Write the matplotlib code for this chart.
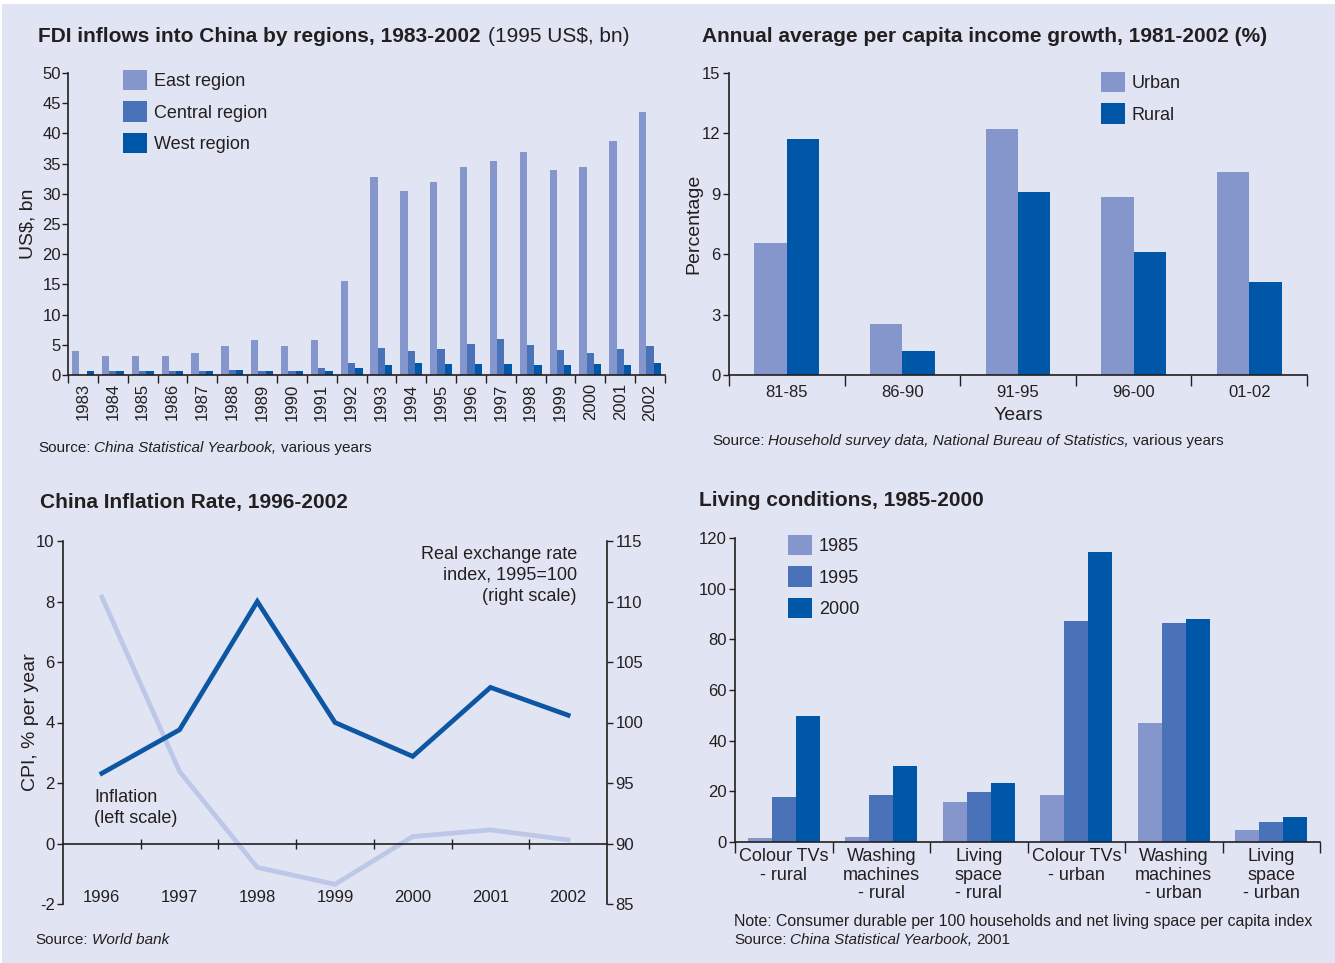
import numpy as np
import matplotlib
matplotlib.use("Agg")
import matplotlib.pyplot as plt
from matplotlib.patches import Rectangle

plt.rcParams['font.family'] = ['Liberation Sans', 'DejaVu Sans']
plt.rcParams['text.color'] = '#231f20'
plt.rcParams['axes.labelcolor'] = '#231f20'
plt.rcParams['xtick.color'] = '#231f20'
plt.rcParams['ytick.color'] = '#231f20'
plt.rcParams['axes.unicode_minus'] = False

# ---- data ----
fdi_years = [str(y) for y in range(1983, 2003)]
fdi_east = [3.9, 3.2, 3.2, 3.2, 3.7, 4.8, 5.8, 4.8, 5.8, 15.5,
            32.8, 30.4, 31.9, 34.4, 35.5, 37.0, 33.9, 34.4, 38.8, 43.6]
fdi_central = [0.0, 0.6, 0.6, 0.6, 0.6, 0.9, 0.6, 0.6, 1.1, 2.0,
               4.5, 3.9, 4.3, 5.2, 6.0, 5.0, 4.2, 3.7, 4.3, 4.8]
fdi_west = [0.6, 0.6, 0.6, 0.6, 0.6, 0.9, 0.6, 0.6, 0.6, 1.1,
            1.6, 2.0, 1.9, 1.9, 1.9, 1.7, 1.7, 1.9, 1.7, 2.0]

inc_periods = ['81-85', '86-90', '91-95', '96-00', '01-02']
inc_urban = [6.55, 2.55, 12.2, 8.85, 10.1]
inc_rural = [11.7, 1.2, 9.1, 6.1, 4.6]

inf_years = ['1996', '1997', '1998', '1999', '2000', '2001', '2002']
inflation = [8.15, 2.38, -0.79, -1.35, 0.23, 0.45, 0.12]
exch_rate = [95.8, 99.4, 110.0, 100.0, 97.2, 102.9, 100.6]

liv_cats = ['Colour TVs\n- rural', 'Washing\nmachines\n- rural', 'Living\nspace\n- rural',
            'Colour TVs\n- urban', 'Washing\nmachines\n- urban', 'Living\nspace\n- urban']
liv_1985 = [1.6, 2.1, 15.9, 18.4, 46.9, 4.9]
liv_1995 = [17.6, 18.4, 19.9, 87.2, 86.4, 7.9]
liv_2000 = [49.9, 30.1, 23.4, 114.5, 88.0, 9.9]

# ---- style ----
W, H = 1335, 963
bg = '#e1e4f2'
c_light = '#8496cc'
c_mid = '#4a72b8'
c_dark = '#0057a8'
c_infl = '#bdc7e7'
ink = '#231f20'

fig = plt.figure(figsize=(W / 100, H / 100), dpi=100, facecolor='white')
fig.patches.append(Rectangle((2 / W, 0), 1, 1 - 4 / H, transform=fig.transFigure,
                             facecolor=bg, edgecolor='none', zorder=-10))


def px_axes(left, top, right, bottom):
    return fig.add_axes([left / W, 1 - bottom / H, (right - left) / W, (bottom - top) / H])


def ftext(x, y, s, **kw):
    return fig.text(x / W, 1 - y / H, s, **kw)


def rich(x, y, parts, size=11):
    # chain text pieces with different styles on one line
    renderer = fig.canvas.get_renderer()
    for s, style in parts:
        t = ftext(x, y, s, fontsize=size, style=style, va='center')
        x += t.get_window_extent(renderer).width + 4


def style_axes(ax):
    ax.set_facecolor('none')
    for side in ['top', 'right']:
        ax.spines[side].set_visible(False)
    for side in ['left', 'bottom']:
        ax.spines[side].set_color(ink)
        ax.spines[side].set_linewidth(1.2)
    ax.tick_params(width=1.0, length=4, labelsize=12, pad=2)


def slot_ticks(ax, n, length=5, direction='out'):
    ax.set_xlim(-0.5, n - 0.5)
    ax.set_xticks(np.arange(n))
    ax.set_xticks(np.arange(n + 1) - 0.5, minor=True)
    ax.tick_params(axis='x', which='major', length=0)
    ax.tick_params(axis='x', which='minor', length=length, width=1.0, direction=direction)


def legend(ax, handles, labels, x, y, size=13):
    ax.legend(handles, labels, loc='upper left', bbox_to_anchor=(x / W, 1 - y / H),
              bbox_transform=fig.transFigure, frameon=False, fontsize=size,
              handlelength=1.35, handleheight=1.35, labelspacing=0.62,
              handletextpad=0.35, borderpad=0, borderaxespad=0)


# ---- top left: FDI ----
ax1 = px_axes(68, 73, 665, 375)
style_axes(ax1)
x = np.arange(len(fdi_years))
w = 0.245
b1 = ax1.bar(x - w, fdi_east, w, color=c_light)
b2 = ax1.bar(x, fdi_central, w, color=c_mid)
b3 = ax1.bar(x + w, fdi_west, w, color=c_dark)
slot_ticks(ax1, len(fdi_years), length=6)
ax1.set_xticklabels(fdi_years, rotation=90, fontsize=12)
ax1.tick_params(axis='x', which='major', pad=6)
ax1.set_ylim(0, 50)
ax1.set_yticks(np.arange(0, 51, 5))
ax1.tick_params(axis='y', pad=1)
ax1.set_ylabel('US$, bn', fontsize=14, labelpad=4)
legend(ax1, [b1, b2, b3], ['East region', 'Central region', 'West region'], 123, 70)
ftext(38, 36, 'FDI inflows into China by regions, 1983-2002', fontsize=15,
      fontweight='bold', va='center')
ftext(488, 36, '(1995 US$, bn)', fontsize=15, va='center')
rich(38, 448, [('Source:', 'normal'), ('China Statistical Yearbook,', 'italic'),
               ('various years', 'normal')])

# ---- top right: income growth ----
ax2 = px_axes(729, 73, 1307, 375)
style_axes(ax2)
x = np.arange(len(inc_periods))
w = 0.28
u = ax2.bar(x - w / 2, inc_urban, w, color=c_light)
r = ax2.bar(x + w / 2, inc_rural, w, color=c_dark)
slot_ticks(ax2, len(inc_periods), length=8)
ax2.set_xticklabels(inc_periods, fontsize=12)
ax2.tick_params(axis='x', which='major', pad=7)
ax2.set_ylim(0, 15)
ax2.set_yticks(np.arange(0, 16, 3))
ax2.set_ylabel('Percentage', fontsize=14, labelpad=0)
ax2.set_xlabel('Years', fontsize=14, labelpad=5)
legend(ax2, [u, r], ['Urban', 'Rural'], 1101, 72)
ftext(702, 37, 'Annual average per capita income growth, 1981-2002 (%)', fontsize=15,
      fontweight='bold', va='center')
rich(712, 441, [('Source:', 'normal'),
                ('Household survey data, National Bureau of Statistics,', 'italic'),
                ('various years', 'normal')])

# ---- bottom left: inflation ----
ax3 = px_axes(63, 541, 607, 904)
style_axes(ax3)
x = np.arange(len(inf_years))
ax3.plot(x, inflation, color=c_infl, lw=3.4, solid_joinstyle='miter')
ax3.set_ylim(-2, 10)
ax3.set_yticks(np.arange(-2, 11, 2))
ax3.spines['bottom'].set_position(('data', 0))
slot_ticks(ax3, len(inf_years), length=7, direction='inout')
ax3.set_xticks(np.arange(1, len(inf_years)) - 0.5, minor=True)
ax3.set_xticklabels([])
for i, yr in enumerate(inf_years):
    ax3.text(i, -1.8, yr, ha='center', va='center', fontsize=12)
ax3.set_ylabel('CPI, % per year', fontsize=14, labelpad=-2)

ax3r = ax3.twinx()
ax3r.set_facecolor('none')
for side in ['top', 'left', 'bottom']:
    ax3r.spines[side].set_visible(False)
ax3r.spines['right'].set_color(ink)
ax3r.spines['right'].set_linewidth(1.2)
ax3r.plot(x, exch_rate, color='#0d56a3', lw=3.4, solid_joinstyle='miter')
ax3r.set_ylim(85, 115)
ax3r.set_yticks(np.arange(85, 116, 5))
ax3r.tick_params(axis='y', labelsize=12, length=4, width=1.0, pad=2)

ftext(577, 546, 'Real exchange rate\nindex, 1995=100\n(right scale)', fontsize=13,
      ha='right', va='top', linespacing=1.3)
ftext(94, 808, 'Inflation\n(left scale)', fontsize=13, ha='left', va='center',
      linespacing=1.35)
ftext(40, 502, 'China Inflation Rate, 1996-2002', fontsize=15, fontweight='bold',
      va='center')
rich(35, 940, [('Source:', 'normal'), ('World bank', 'italic')])

# ---- bottom right: living conditions ----
ax4 = px_axes(735, 538, 1320, 842)
style_axes(ax4)
x = np.arange(len(liv_cats))
w = 0.245
l1 = ax4.bar(x - w, liv_1985, w, color=c_light)
l2 = ax4.bar(x, liv_1995, w, color=c_mid)
l3 = ax4.bar(x + w, liv_2000, w, color=c_dark)
slot_ticks(ax4, len(liv_cats), length=8)
ax4.set_xticklabels(liv_cats, fontsize=13, linespacing=1.15, va='top')
ax4.tick_params(axis='x', which='major', pad=4)
ax4.set_ylim(0, 120)
ax4.set_yticks(np.arange(0, 121, 20))
legend(ax4, [l1, l2, l3], ['1985', '1995', '2000'], 788, 535)
ftext(699, 500, 'Living conditions, 1985-2000', fontsize=15, fontweight='bold',
      va='center')
ftext(734, 921, 'Note: Consumer durable per 100 households and net living space per capita index',
      fontsize=11.4, va='center')
rich(734, 940, [('Source:', 'normal'), ('China Statistical Yearbook,', 'italic'),
                ('2001', 'normal')])

fig.savefig('out.png', dpi=100, facecolor=fig.get_facecolor())
